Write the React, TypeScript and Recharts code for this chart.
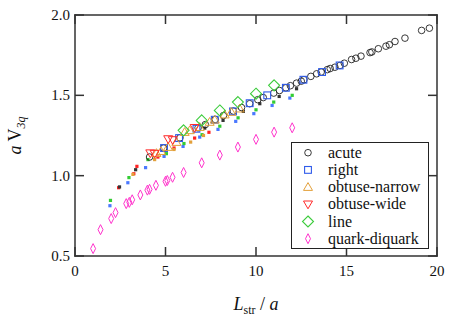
import { Legend, Scatter, ScatterChart, XAxis, YAxis } from "recharts";

const xTicks = [0, 5, 10, 15, 20];
const yTicks = [0.5, 1.0, 1.5, 2.0];
const xDomain: [number, number] = [0, 20];
const yDomain: [number, number] = [0.5, 2.0];

// [L_str / a, a V_3q]
const acute: [number, number][] = [
  [4.12, 1.116], [4.9, 1.172], [5.8, 1.236], [6.8, 1.298], [7.2, 1.318], [7.75, 1.35],
  [8.2, 1.374], [8.75, 1.402], [9.2, 1.424], [9.65, 1.448], [10.1, 1.473], [10.4, 1.486],
  [10.98, 1.514], [11.3, 1.53], [11.65, 1.547], [11.9, 1.56], [12.24, 1.576], [12.5, 1.588],
  [12.65, 1.597], [13.03, 1.618], [13.35, 1.634], [13.6, 1.645], [13.94, 1.66], [14.1, 1.667],
  [14.36, 1.675], [14.64, 1.686], [14.88, 1.7], [15.28, 1.723], [15.52, 1.731], [15.8, 1.744],
  [16.3, 1.766], [16.4, 1.77], [16.76, 1.79], [17.18, 1.806], [17.37, 1.815], [17.68, 1.835],
  [18.23, 1.856], [19.15, 1.904], [19.58, 1.918]
];
const right: [number, number][] = [
  [4.92, 1.172], [5.75, 1.234], [6.71, 1.292], [7.72, 1.348], [8.73, 1.4], [9.65, 1.451],
  [10.62, 1.5], [11.65, 1.547], [12.62, 1.597], [13.65, 1.645], [14.62, 1.686]
];
const obtuseNarrow: [number, number][] = [
  [4.5, 1.14], [4.75, 1.152], [5.14, 1.178], [5.6, 1.209], [6.06, 1.271], [6.34, 1.282],
  [6.89, 1.302], [7.44, 1.334], [7.72, 1.348], [8.27, 1.38], [8.64, 1.396], [9.1, 1.417]
];
const obtuseWide: [number, number][] = [
  [4.16, 1.14], [4.4, 1.137], [5.15, 1.228], [5.4, 1.222], [6.61, 1.298]
];
const line: [number, number][] = [
  [6, 1.282], [7, 1.344], [8, 1.406], [9, 1.458], [10, 1.51], [11, 1.562]
];
const quarkDiquark: [number, number][] = [
  [1, 0.546], [1.41, 0.664], [2, 0.733], [2.24, 0.77], [2.83, 0.826], [3, 0.834],
  [3.16, 0.85], [3.61, 0.88], [4, 0.91], [4.12, 0.915], [4.47, 0.94], [5, 0.965],
  [5.1, 0.97], [5.39, 0.99], [6, 1.02], [7, 1.08], [8, 1.128], [9, 1.178], [10, 1.226],
  [11, 1.271], [12, 1.298]
];

// second (small filled) data set
const smallBlue: [number, number][] = [
  [1.93, 0.813], [2.92, 0.956], [3.9, 1.05], [4.92, 1.12], [5.97, 1.182], [6.89, 1.24],
  [7.9, 1.288], [8.88, 1.338], [9.88, 1.386], [10.89, 1.437], [11.87, 1.483]
];
const smallGreen: [number, number][] = [
  [1.96, 0.846], [2.98, 0.988], [4.03, 1.1], [5.05, 1.137], [6.02, 1.2], [7.02, 1.255],
  [8.0, 1.308], [9.01, 1.36], [10.0, 1.41], [10.98, 1.458], [12.0, 1.5]
];
const smallRed: [number, number][] = [
  [2.41, 0.925], [3.25, 1.012], [3.42, 1.058], [4.58, 1.116], [5.47, 1.172], [6.61, 1.234], [7.4, 1.27]
];
const smallOrange: [number, number][] = [
  [3.2, 1.008], [4.4, 1.1], [5.47, 1.163], [6.39, 1.209], [7.1, 1.25]
];
const smallBlack: [number, number][] = [
  [2.46, 0.93], [3.35, 1.037], [7.17, 1.296], [8.18, 1.344], [9.3, 1.4], [10.21, 1.448],
  [11.28, 1.493], [12.24, 1.541]
];

const toPoints = (arr: [number, number][]) => arr.map(([L, V]) => ({ L, V }));

// layout
const W = 452;
const H = 317;
const M = { top: 15, right: 15 };
const Y_AXIS_W = 75;
const X_AXIS_H = 61;
const plot = { x: Y_AXIS_W, y: M.top, w: W - Y_AXIS_W - M.right, h: H - M.top - X_AXIS_H };

const FRAME = "#333";
const LW = 1.5; // frame and tick thickness
const TICK = 9;
const serif = "'Liberation Serif', 'Times New Roman', serif";

const Circle = ({ cx, cy }: any) => (
  <circle cx={cx} cy={cy} r={3.3} fill="none" stroke="#222" strokeWidth={0.9} />
);
const Square = ({ cx, cy }: any) => (
  <rect x={cx - 3.4} y={cy - 3.4} width={6.8} height={6.8} fill="none" stroke="#2f5bea" strokeWidth={1.1} />
);
const TriUp = ({ cx, cy }: any) => (
  <path d={`M${cx},${cy - 4.5}L${cx + 4.5},${cy + 3.3}L${cx - 4.5},${cy + 3.3}Z`} fill="none" stroke="#e3a03a" strokeWidth={1} />
);
const TriDown = ({ cx, cy }: any) => (
  <path d={`M${cx},${cy + 4.5}L${cx + 4.5},${cy - 3.3}L${cx - 4.5},${cy - 3.3}Z`} fill="none" stroke="#ff2a2a" strokeWidth={1} />
);
const Diamond = ({ cx, cy }: any) => (
  <path d={`M${cx},${cy - 5.5}L${cx + 5.5},${cy}L${cx},${cy + 5.5}L${cx - 5.5},${cy}Z`} fill="none" stroke="#3ccc3c" strokeWidth={1.1} />
);
const ThinDiamond = ({ cx, cy }: any) => (
  <path d={`M${cx},${cy - 5}L${cx + 2.5},${cy}L${cx},${cy + 5}L${cx - 2.5},${cy}Z`} fill="none" stroke="#ff33cc" strokeWidth={1} />
);
const dot = (color: string) => ({ cx, cy }: any) => (
  <rect x={cx - 1.6} y={cy - 1.6} width={3.2} height={3.2} fill={color} />
);

const series = [
  { name: "acute", data: acute, shape: Circle },
  { name: "right", data: right, shape: Square },
  { name: "obtuse-narrow", data: obtuseNarrow, shape: TriUp },
  { name: "obtuse-wide", data: obtuseWide, shape: TriDown },
  { name: "line", data: line, shape: Diamond },
  { name: "quark-diquark", data: quarkDiquark, shape: ThinDiamond }
];

const smallSeries = [
  { name: "s-blue", data: smallBlue, shape: dot("#4a78ff") },
  { name: "s-green", data: smallGreen, shape: dot("#33cc33") },
  { name: "s-red", data: smallRed, shape: dot("#ff2222") },
  { name: "s-orange", data: smallOrange, shape: dot("#e3a03a") },
  { name: "s-black", data: smallBlack, shape: dot("#333") }
];

const BottomTick = ({ x, y, payload }: any) => (
  <text x={x} y={y + 20} textAnchor="middle" fontFamily={serif} fontSize={15} fill="#111">
    {payload.value}
  </text>
);
const LeftTick = ({ x, y, payload }: any) => (
  <text x={x - 5} y={y + 5} textAnchor="end" fontFamily={serif} fontSize={15} fill="#111">
    {Number(payload.value).toFixed(1)}
  </text>
);

const XTitle = ({ viewBox }: any) => (
  <text x={viewBox.x + viewBox.width / 2} y={viewBox.y + 54} textAnchor="middle" fontFamily={serif} fontSize={18} fill="#111">
    <tspan fontStyle="italic">L</tspan>
    <tspan fontSize={12} dy={4}>str</tspan>
    <tspan dy={-4}> / </tspan>
    <tspan fontStyle="italic">a</tspan>
  </text>
);
const YTitle = ({ viewBox }: any) => {
  const cx = 21;
  const cy = viewBox.y + viewBox.height / 2;
  return (
    <text x={cx} y={cy} transform={`rotate(-90, ${cx}, ${cy})`} textAnchor="middle" fontFamily={serif} fontSize={18} fill="#111">
      <tspan fontStyle="italic">a</tspan>
      <tspan> V</tspan>
      <tspan fontSize={12} dy={4} fontStyle="italic">3q</tspan>
    </text>
  );
};

// overlay: plot frame (filled bars) with inward ticks on all four sides, plus the legend box
const px = (t: number) => plot.x + (plot.w * (t - xDomain[0])) / (xDomain[1] - xDomain[0]);
const py = (t: number) => plot.y + plot.h - (plot.h * (t - yDomain[0])) / (yDomain[1] - yDomain[0]);
const LEG = { x: 291, y: 142, w: 138, h: 107 };

const bar = (key: string, x: number, y: number, w: number, h: number) => (
  <rect key={key} x={x} y={y} width={w} height={h} fill={FRAME} />
);

const Overlay = () => {
  const L = plot.x;
  const T = plot.y;
  const R = plot.x + plot.w;
  const B = plot.y + plot.h;
  const h = LW / 2;
  const bars = [
    bar("fb", L - h, B - h, plot.w + LW, LW),
    bar("ft", L - h, T - h, plot.w + LW, LW),
    bar("fl", L - h, T - h, LW, plot.h + LW),
    bar("fr", R - h, T - h, LW, plot.h + LW),
    ...xTicks.flatMap((t) => [
      bar(`tb${t}`, px(t) - h, B - TICK, LW, TICK),
      bar(`tt${t}`, px(t) - h, T, LW, TICK)
    ]),
    ...yTicks.flatMap((t) => [
      bar(`tl${t}`, L, py(t) - h, TICK, LW),
      bar(`tr${t}`, R - TICK, py(t) - h, TICK, LW)
    ])
  ];
  return (
    <svg width={W} height={H} style={{ display: "block", overflow: "visible" }}>
      <g>{bars}</g>
      <g transform={`translate(${LEG.x}, ${LEG.y})`}>
        <rect x={0.5} y={0.5} width={LEG.w - 1} height={LEG.h - 1} fill="#fff" stroke="#222" strokeWidth={1} />
        {series.map((s, i) => {
          const cy = 10.7 + i * 17.2;
          const Shape = s.shape;
          return (
            <g key={s.name}>
              <Shape cx={17} cy={cy} />
              <text x={37} y={cy + 5} fontFamily={serif} fontSize={16} fill="#111">
                {s.name}
              </text>
            </g>
          );
        })}
      </g>
    </svg>
  );
};

export default function App() {
  return (
    <div style={{ position: "absolute", left: 0, top: 0 }}>
      <ScatterChart width={W} height={H} margin={{ top: M.top, right: M.right, bottom: 0, left: 0 }}>
        <XAxis
          xAxisId="b"
          dataKey="L"
          type="number"
          domain={xDomain}
          ticks={xTicks}
          interval={0}
          allowDataOverflow
          height={X_AXIS_H}
          tickSize={0}
          tickMargin={0}
          tick={<BottomTick />}
          tickLine={false}
          axisLine={false}
          label={<XTitle />}
        />
        <YAxis
          yAxisId="l"
          dataKey="V"
          type="number"
          domain={yDomain}
          ticks={yTicks}
          interval={0}
          allowDataOverflow
          width={Y_AXIS_W}
          tickSize={0}
          tickMargin={0}
          tick={<LeftTick />}
          tickLine={false}
          axisLine={false}
          label={<YTitle />}
        />
        {smallSeries.map((s) => (
          <Scatter
            key={s.name}
            name={s.name}
            xAxisId="b"
            yAxisId="l"
            data={toPoints(s.data)}
            shape={s.shape}
            legendType="none"
            isAnimationActive={false}
          />
        ))}
        {series.map((s) => (
          <Scatter
            key={s.name}
            name={s.name}
            xAxisId="b"
            yAxisId="l"
            data={toPoints(s.data)}
            shape={s.shape}
            isAnimationActive={false}
          />
        ))}
        <Legend
          layout="horizontal"
          verticalAlign="middle"
          align="center"
          content={<Overlay />}
          wrapperStyle={{ left: 0, top: 0, width: W, height: H, pointerEvents: "none" }}
        />
      </ScatterChart>
    </div>
  );
}
